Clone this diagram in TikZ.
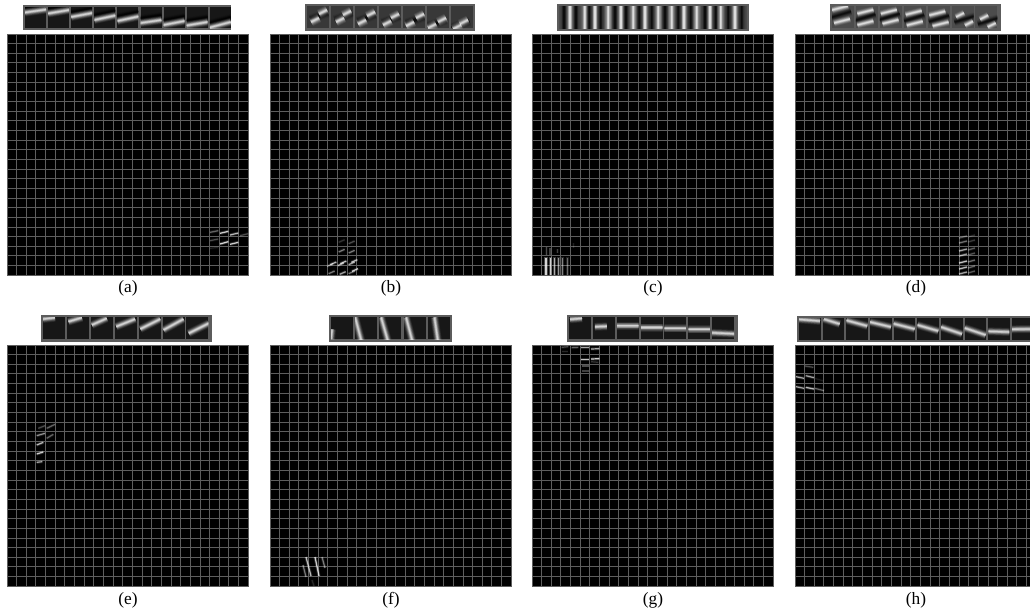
\documentclass[tikz,border=0pt]{standalone}
\usepackage{fontspec}
\setmainfont{Liberation Serif}
\definecolor{gridgray}{gray}{0.37}
\definecolor{stripgray}{gray}{0.36}
\definecolor{tiledark}{gray}{0.09}
\definecolor{tilemid}{gray}{0.22}
\definecolor{tilelight}{gray}{0.30}
\newcommand\softband[6]{%
  \draw[#6,line width=#5*0.75pt,opacity=.08] ({#1},{#2}) -- ({#3},{#4});
  \draw[#6,line width=#5*0.6pt,opacity=.12] ({#1},{#2}) -- ({#3},{#4});
  \draw[#6,line width=#5*0.46pt,opacity=.18] ({#1},{#2}) -- ({#3},{#4});
  \draw[#6,line width=#5*0.33pt,opacity=.26] ({#1},{#2}) -- ({#3},{#4});
  \draw[#6,line width=#5*0.21pt,opacity=.36] ({#1},{#2}) -- ({#3},{#4});
  \draw[#6,line width=#5*0.1pt,opacity=.4] ({#1},{#2}) -- ({#3},{#4});
}
\newcommand\panelgrid[2]{%
  \fill[black] (#1,#2) rectangle ++(242,242);
  \foreach \k in {0,...,25}{
    \draw[gridline] ({#1+9.65*\k},#2) -- ++(0,242);
    \draw[gridline] (#1,{#2+9.65*\k}) -- ++(242,0);
  }
}
\newcommand\acti[5]{%
  \draw[white,line width=2.2pt,opacity=#5*.2] (#1,#2) -- (#3,#4);
  \draw[white,line width=.9pt,opacity=#5*.85] (#1,#2) -- (#3,#4);
}
\tikzset{
  gridline/.style={gridgray,line width=.75pt},
  stripbox/.style={fill=stripgray,draw=none},
  zm/.style n args={2}{shift={(#1,#2)},x=.25pt,y=-.25pt},
  caption/.style={font=\fontsize{13pt}{15pt}\selectfont,inner sep=0pt,text=black}
}
\newcommand\tileat[5]{% x,y,size,colour,code
  \begin{scope}[shift={({#1},{#2})}]
    \fill[#4] (0,0) rectangle (#3,#3);
    \clip (0,0) rectangle (#3,#3);
    #5
  \end{scope}
}
\begin{document}
\begin{tikzpicture}[x=.75pt,y=-.75pt]
\useasboundingbox (0,0) rectangle (1030,615);
\clip (0,0) rectangle (1030,615);
\fill[white] (0,0) rectangle (1030,615);

% panels
\panelgrid{7}{34}\panelgrid{270}{34}\panelgrid{532}{34}\panelgrid{795}{34}
\panelgrid{7}{345}\panelgrid{270}{345}\panelgrid{532}{345}\panelgrid{795}{345}

% strip a
\fill[stripbox] (23,5) rectangle (231,30);
\foreach \i/\l/\r in {0/5.5/2.5,1/6.5/3,2/10/6,3/13/8.5,4/14/9.5,5/16/13,6/18/14,7/18.5/15,8/20.5/15}{
  \tileat{25+23.1*\i}{7}{21}{tiledark}{%
    \softband{0}{\l-5}{21}{\r-5}{6}{black}
    \softband{0}{\l}{21}{\r}{8}{white}}
}
% strip b
\fill[stripbox] (305,4) rectangle (475,31);
\foreach \i/\a/\b/\c/\d in {0/16/6/8/14,1/16/7/9/14,2/16/8/7/16,3/16/10/8/17,4/17/10/7/18,5/15/14/5/20,6/13/16/6/21}{
  \tileat{307+24*\i}{6}{22}{tilemid}{%
    \softband{(\a+\c)/2-9}{(\b+\d)/2+3}{(\a+\c)/2+9}{(\b+\d)/2-3}{9}{black}
    \softband{\a-4}{\b+2}{\a+4}{\b-2}{9}{white}
    \softband{\c-4}{\d+2}{\c+4}{\d-2}{9}{white}}
}
% strip c
\fill[stripbox] (557,4) rectangle (749,31);
\begin{scope}
  \fill[tilelight] (559,6) rectangle (747,29);
  \clip (559,6) rectangle (747,29);
  \foreach \z in {60,105,135,175,213,250,285,325,365,402,440,480,512,555}{
    \softband{550+\z/3}{6}{550+\z/3}{29}{8}{white}}
  \foreach \z in {42,78,118,152,195,228,268,305,345,385,422,465,497,535,575}{
    \softband{550+\z/3}{6}{550+\z/3}{29}{8}{black}}
\end{scope}
% strip d
\fill[stripbox] (830,4) rectangle (1001,31);
\foreach \i/\a/\b/\c/\d/\h in {0/8/2/10/15/8,1/9.5/5.7/9.5/17/8,2/9/5.7/10.7/15.7/8,3/10/6.7/11/17.3/8,4/9.7/7.3/13/18/8,5/8.5/9/17.5/17.3/4,6/8.7/11.3/16.3/19/4}{
  \tileat{832+23.9*\i}{6}{22}{tilelight}{%
    \softband{(\a+\c)/2-10}{(\b+\d)/2+3}{(\a+\c)/2+10}{(\b+\d)/2-3}{8}{black}
    \softband{\a-\h}{\b+2}{\a+\h}{\b-2}{7}{white}
    \softband{\c-\h}{\d+2}{\c+\h}{\d-2}{7}{white}}
}
% strip e
\fill[stripbox] (41,315) rectangle (212,342);
\foreach \i/\a/\b/\c/\d in {0/0/1.7/12/0.3,1/1.5/4.3/15/0.3,2/1/7.7/16/1,3/1.5/9.3/20.5/1.7,4/1.7/11.7/21.7/1.7,5/1/12.7/21/1.7,6/2.3/16/22.3/6}{
  \tileat{43+23.9*\i}{317.3}{22}{tiledark}{%
    \softband{\a}{\b}{\c}{\d}{8}{white}}
}
% strip f
\fill[stripbox] (329,315) rectangle (452,342);
\foreach \i/\a/\b/\c/\d in {0/1/12/0/22,1/0/0/6/23,2/1.7/0/8.3/23,3/2.5/0/8.5/23,4/6.7/0/10/23}{
  \tileat{331+24.2*\i}{317.3}{22}{tiledark}{%
    \softband{\a}{\b}{\c}{\d}{8}{white}}
}
% strip g
\fill[stripbox] (567,315) rectangle (738,342);
\foreach \i/\a/\b/\c/\d in {0/1/2/13/1,1/2/9.5/14/9,2/0/8.5/22/8.5,3/0/10.3/22/10.3,4/0/11/22/11,5/0/12/22/12,6/0/15.5/22/16.5}{
  \tileat{569+23.85*\i}{317.3}{22}{tiledark}{%
    \softband{\a}{\b}{\c}{\d}{8}{white}}
}
% strip h
\fill[stripbox] (797,316) rectangle (1032,342);
\foreach \i/\a/\b/\c/\d in {0/0/1.3/21/3,1/1/1/17/6,2/0/2.3/21/8,3/0/4/21/9,4/0/5.7/21/11,5/0/7/21/13,6/0/9/21/16,7/0/10/21/17,8/0/13.3/21/14,9/0/11.3/21/11}{
  \tileat{799+23.67*\i}{318}{21.5}{tiledark}{%
    \softband{\a}{\b}{\c}{\d}{8}{white}}
}

% activations a
\begin{scope}[zm={190}{215}]
  \acti{60}{52}{85}{47}{.4}\acti{90}{55}{115}{49}{.9}\acti{120}{60}{145}{54}{.8}\acti{150}{62}{175}{56}{.3}
  \acti{60}{77}{85}{72}{.3}\acti{90}{87}{115}{80}{.95}\acti{120}{88}{145}{82}{.9}\acti{60}{100}{85}{97}{.12}
\end{scope}
% activations b
\begin{scope}[zm={320}{235}]
  \foreach \p/\q/\o in {65/47/.5,95/50/.5,95/22/.3,65/18/.2,40/85/.8,70/82/.85,103/78/.8,30/90/.5,62/88/.7,95/85/.7,35/112/.5,68/114/.7,105/105/.85,95/112/.5}{
    \acti{\p-9}{\q+4}{\p+9}{\q-4}{\o}}
\end{scope}
% activations c
\begin{scope}[zm={520}{235}]
  \foreach \p/\o in {78/.9,92/.9,103/.7,115/.6,128/.5,142/.4}{
    \draw[white,line width=2.6pt,opacity=\o*.3] (\p,65) -- (\p,120);
    \draw[white,line width=1pt,opacity=\o*.85] (\p,70) -- (\p,120);}
  \acti{80}{35}{80}{60}{.3}\acti{90}{38}{90}{60}{.25}\acti{112}{42}{112}{55}{.25}\acti{160}{25}{160}{40}{.12}
\end{scope}
% activations d
\foreach \q/\o in {237/.35,242/.45,250/.7,255/.65,262/.85,268/.8,273/.7}{
  \acti{959}{\q+1}{967}{\q-1}{\o}
  \acti{968}{\q}{975}{\q-2}{\o*.5}
}
% activations e
\begin{scope}[zm={0}{305}]
  \acti{115}{370}{135}{362}{.3}\acti{140}{370}{165}{358}{.4}\acti{110}{392}{135}{385}{.6}\acti{140}{400}{160}{388}{.4}
  \acti{110}{420}{130}{412}{.8}\acti{110}{447}{130}{441}{.9}\acti{110}{472}{127}{470}{.7}
\end{scope}
% activations f
\acti{306}{557}{311}{576}{.8}\acti{315}{557}{319}{576}{.9}\acti{322}{557}{325}{568}{.5}\acti{303}{565}{306}{577}{.5}\acti{312}{580}{314}{586}{.15}
% activations g
\begin{scope}[zm={530}{305}]
  \acti{95}{127}{115}{125}{.3}\acti{125}{128}{145}{127}{.4}\acti{153}{128}{178}{128}{.7}\acti{183}{132}{208}{131}{.7}
  \acti{153}{163}{178}{163}{.85}\acti{183}{162}{208}{161}{.9}\acti{155}{183}{178}{183}{.3}\acti{155}{198}{178}{198}{.25}
  \acti{183}{170}{205}{172}{.2}\acti{95}{140}{115}{140}{.15}
\end{scope}
% activations h
\begin{scope}[zm={790}{305}]
  \acti{45}{183}{70}{187}{.3}\acti{18}{215}{42}{220}{.7}\acti{47}{212}{72}{218}{.7}\acti{18}{245}{42}{250}{.7}
  \acti{47}{247}{72}{252}{.8}\acti{75}{250}{102}{257}{.4}\acti{75}{220}{100}{228}{.1}
\end{scope}

% captions
\node[caption] (la) at (128,288) {(a)};
\node[caption] (lb) at (391,288) {(b)};
\node[caption] (lc) at (653,288) {(c)};
\node[caption] (ld) at (916,288) {(d)};
\node[caption] (le) at (128,600) {(e)};
\node[caption] (lf) at (391,600) {(f)};
\node[caption] (lg) at (653,600) {(g)};
\node[caption] (lh) at (916,600) {(h)};
\end{tikzpicture}
\end{document}
